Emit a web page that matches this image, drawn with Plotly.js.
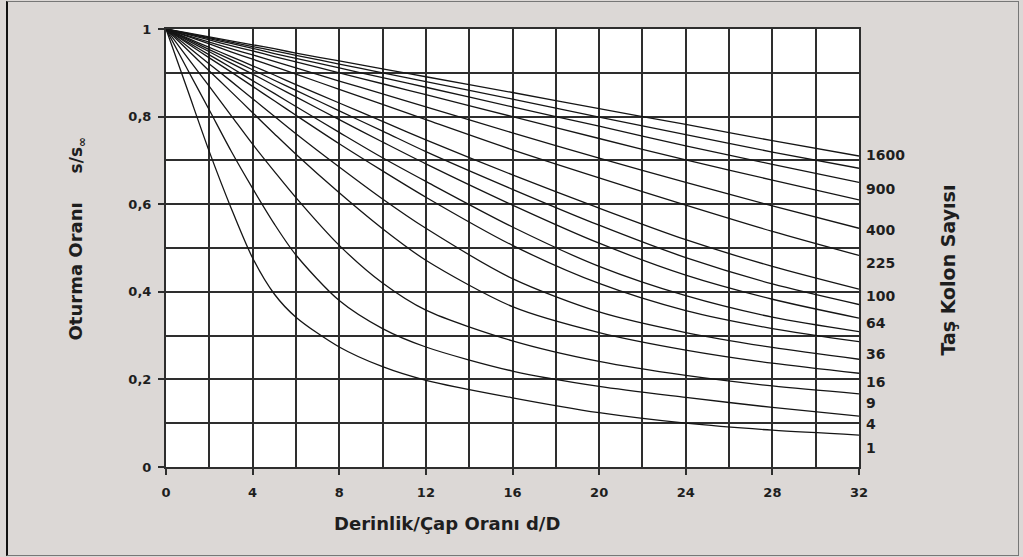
<!DOCTYPE html>
<html>
<head>
<meta charset="utf-8">
<script src="https://cdn.plot.ly/plotly-3.0.1.min.js"></script>
<style>
  body { margin: 0; background: #ffffff; }
  #wrap { position: relative; width: 1023px; height: 557px; }
  #chart { width: 1023px; height: 557px; }
  #frame { position: absolute; left: 6px; top: 1px; width: 1010px; height: 553px;
           border: 1px solid #777; border-left: 2px solid #111; pointer-events: none; }
</style>
</head>
<body>
<div id="wrap"><div id="chart"></div><div id="frame"></div></div>
<script>
// Depth / diameter ratio d/D (x positions where the curves were read)
const depthRatio = [0, 1, 2, 3, 4, 5, 6, 8, 10, 12, 16, 20, 24, 28, 32];

// Number of stone columns for each curve
const columnCounts = [1, 4, 9, 16, 25, 36, 49, 64, 81, 100, 225, 400, 625, 900, 1225, 1600];

// Settlement ratio s/s∞ for each curve
const s1    = [1, 0.860, 0.720, 0.592, 0.477, 0.395, 0.342, 0.274, 0.229, 0.198, 0.158, 0.124, 0.100, 0.084, 0.073];
const s4    = [1, 0.907, 0.815, 0.722, 0.636, 0.555, 0.484, 0.380, 0.316, 0.274, 0.219, 0.184, 0.159, 0.136, 0.116];
const s9    = [1, 0.934, 0.869, 0.803, 0.737, 0.675, 0.615, 0.506, 0.420, 0.358, 0.288, 0.241, 0.209, 0.185, 0.167];
const s16   = [1, 0.952, 0.904, 0.857, 0.809, 0.761, 0.714, 0.626, 0.544, 0.472, 0.366, 0.307, 0.267, 0.237, 0.214];
const s25   = [1, 0.960, 0.920, 0.881, 0.841, 0.801, 0.761, 0.685, 0.612, 0.545, 0.430, 0.354, 0.307, 0.273, 0.246];
const s36   = [1, 0.967, 0.934, 0.902, 0.869, 0.836, 0.803, 0.738, 0.676, 0.616, 0.506, 0.419, 0.357, 0.316, 0.286];
const s49   = [1, 0.970, 0.941, 0.912, 0.882, 0.853, 0.823, 0.764, 0.706, 0.652, 0.548, 0.458, 0.391, 0.342, 0.309];
const s64   = [1, 0.974, 0.948, 0.922, 0.897, 0.871, 0.845, 0.793, 0.742, 0.692, 0.598, 0.511, 0.438, 0.383, 0.340];
const s81   = [1, 0.977, 0.953, 0.930, 0.907, 0.883, 0.860, 0.813, 0.767, 0.720, 0.634, 0.552, 0.478, 0.418, 0.371];
const s100  = [1, 0.979, 0.958, 0.937, 0.916, 0.895, 0.873, 0.831, 0.789, 0.747, 0.667, 0.591, 0.519, 0.458, 0.406];
const s225  = [1, 0.983, 0.966, 0.948, 0.931, 0.914, 0.897, 0.862, 0.828, 0.793, 0.724, 0.660, 0.598, 0.538, 0.483];
const s400  = [1, 0.985, 0.970, 0.955, 0.941, 0.926, 0.911, 0.881, 0.852, 0.822, 0.763, 0.705, 0.650, 0.596, 0.545];
const s625  = [1, 0.988, 0.975, 0.962, 0.950, 0.937, 0.925, 0.900, 0.875, 0.850, 0.800, 0.750, 0.701, 0.655, 0.610];
const s900  = [1, 0.989, 0.978, 0.967, 0.956, 0.944, 0.933, 0.911, 0.889, 0.867, 0.822, 0.778, 0.733, 0.691, 0.650];
const s1225 = [1, 0.990, 0.980, 0.970, 0.960, 0.950, 0.940, 0.920, 0.900, 0.880, 0.840, 0.799, 0.759, 0.719, 0.682];
const s1600 = [1, 0.991, 0.982, 0.973, 0.964, 0.955, 0.945, 0.927, 0.909, 0.891, 0.855, 0.818, 0.782, 0.745, 0.710];

const seriesValues = [s1, s4, s9, s16, s25, s36, s49, s64, s81, s100, s225, s400, s625, s900, s1225, s1600];

// Right-hand curve labels and the height at which each is printed
const labelTexts = ['1600', '900', '400', '225', '100', '64', '36', '16', '9', '4', '1'];
const labelY     = [0.712, 0.635, 0.541, 0.466, 0.390, 0.329, 0.258, 0.194, 0.146, 0.098, 0.043];

// Axis ticks
const xTickVals = [0, 4, 8, 12, 16, 20, 24, 28, 32];
const yTickVals = [0, 0.2, 0.4, 0.6, 0.8, 1];
const yTickText = ['0', '0,2', '0,4', '0,6', '0,8', '1'];

const gridCol = '#2e2e2e';
const traces = seriesValues.map((vals, i) => ({
  type: 'scatter', mode: 'lines',
  x: depthRatio, y: vals,
  name: String(columnCounts[i]),
  line: { color: '#151515', width: 1.3, shape: 'spline', smoothing: 0.8 },
  hoverinfo: 'x+y+name'
}));

const boldFont = (size) => ({ family: 'DejaVu Sans, Arial, sans-serif', size: size, color: '#1e1e1e', weight: 'bold' });

const annotations = labelTexts.map((t, i) => ({
  x: 32, xref: 'x', y: labelY[i], yref: 'y',
  xanchor: 'left', yanchor: 'middle', xshift: 5,
  text: t, showarrow: false, font: boldFont(14)
}));

annotations.push({
  x: 0.405, xref: 'paper', y: -0.128, yref: 'paper',
  xanchor: 'center', yanchor: 'middle',
  text: 'Derinlik/Çap Oranı d/D', showarrow: false, font: boldFont(18)
});
annotations.push({
  x: -0.131, xref: 'paper', y: 0.447, yref: 'paper',
  xanchor: 'center', yanchor: 'middle', textangle: -90,
  text: 'Oturma Oranı', showarrow: false, font: boldFont(18)
});
annotations.push({
  x: -0.128, xref: 'paper', y: 0.712, yref: 'paper',
  xanchor: 'center', yanchor: 'middle', textangle: -90,
  text: 's/s<sub>∞</sub>', showarrow: false, font: boldFont(17)
});
annotations.push({
  x: 1.128, xref: 'paper', y: 0.45, yref: 'paper',
  xanchor: 'center', yanchor: 'middle', textangle: -90,
  text: 'Taş Kolon Sayısı', showarrow: false, font: boldFont(19)
});

const axisCommon = {
  ticks: 'outside', ticklen: 6, tickwidth: 2, tickcolor: gridCol,
  showgrid: true, gridcolor: gridCol, gridwidth: 2,
  showline: true, linecolor: gridCol, linewidth: 2, mirror: true,
  zeroline: false, tickfont: boldFont(13), fixedrange: true
};

const layout = {
  width: 1023, height: 557,
  margin: { l: 166, r: 164, t: 29, b: 90 },
  paper_bgcolor: '#dcd8d6', plot_bgcolor: '#ffffff',
  showlegend: false, separators: ', ',
  xaxis: Object.assign({}, axisCommon, {
    range: [0, 32], tickmode: 'array', tickvals: xTickVals,
    ticklabelstandoff: 6,
    minor: { dtick: 2, tick0: 0, showgrid: true, gridcolor: gridCol, gridwidth: 2, ticks: '' }
  }),
  yaxis: Object.assign({}, axisCommon, {
    range: [0, 1], tickmode: 'array', tickvals: yTickVals, ticktext: yTickText,
    ticklabelstandoff: 4,
    minor: { dtick: 0.1, tick0: 0, showgrid: true, gridcolor: gridCol, gridwidth: 2, ticks: '' }
  }),
  annotations: annotations
};

Plotly.newPlot('chart', traces, layout, { displayModeBar: false, staticPlot: true });
</script>
</body>
</html>
